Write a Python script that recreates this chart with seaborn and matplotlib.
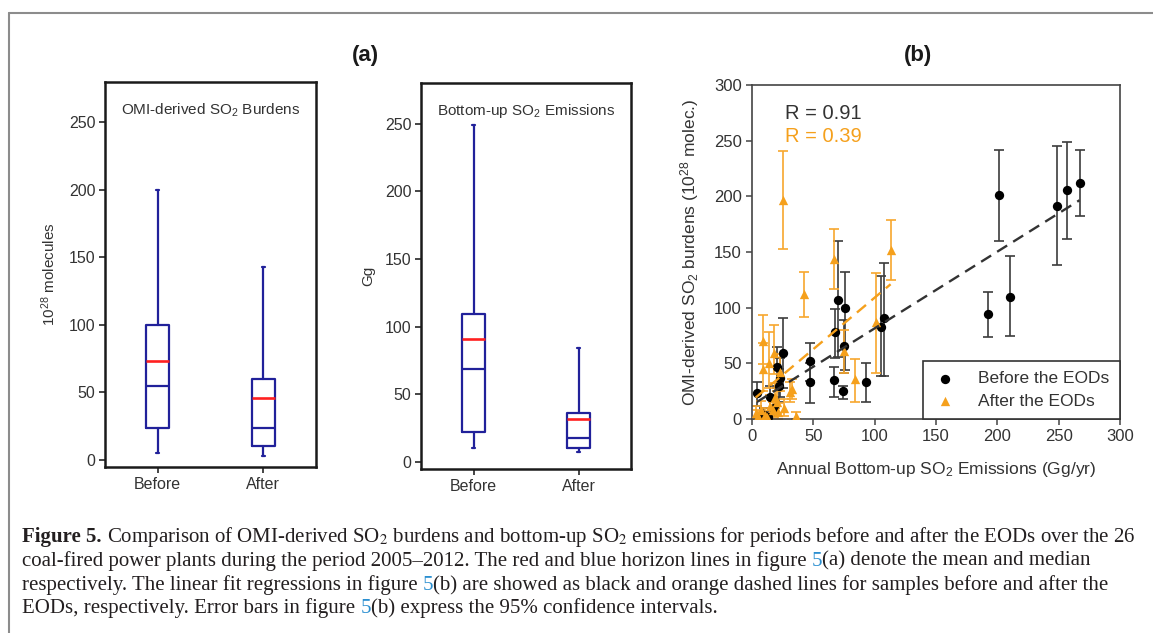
import numpy as np
import pandas as pd
import matplotlib
matplotlib.use('Agg')
import matplotlib.pyplot as plt
import seaborn as sns
from matplotlib.lines import Line2D
from matplotlib.offsetbox import TextArea, HPacker, DrawingArea, AnnotationBbox

sns.set_theme(style='ticks')
plt.rcParams['font.family'] = ['Liberation Sans', 'DejaVu Sans']
plt.rcParams['mathtext.fontset'] = 'custom'
plt.rcParams['mathtext.rm'] = 'Liberation Sans'
plt.rcParams['mathtext.it'] = 'Liberation Sans:italic'
plt.rcParams['mathtext.bf'] = 'Liberation Sans:bold'

# --- data ---
groups = ['Before', 'After']

# (a) left: OMI-derived SO2 burdens (10^28 molecules)
burden_low = [5, 3]
burden_q1 = [24, 10]
burden_med = [55, 24]
burden_q3 = [100, 60]
burden_high = [200, 143]
burden_mean = [73, 46]

# (a) right: bottom-up SO2 emissions (Gg)
emis_low = [10, 7]
emis_q1 = [22, 10]
emis_med = [69, 18]
emis_q3 = [109, 36]
emis_high = [249, 84]
emis_mean = [91, 32]

# (b) before the EODs: emission, burden, 95% CI low/high
before_x = [4, 10, 13, 15, 18, 20, 22, 23, 25, 47, 47, 67, 68, 70, 74, 75, 76, 93,
            105, 108, 192, 201, 210, 249, 257, 267]
before_y = [23, 4, 2, 20, 10, 47, 30, 37, 59, 52, 33, 35, 78, 107, 25, 66, 100, 33,
            83, 91, 94, 201, 110, 191, 206, 212]
before_lo = [12, 1, 0, 10, 3, 28, 15, 20, 28, 34, 14, 20, 55, 56, 18, 41, 44, 15,
             39, 39, 74, 160, 75, 138, 162, 182]
before_hi = [33, 10, 6, 30, 20, 65, 45, 55, 91, 68, 50, 47, 99, 160, 30, 89, 132, 50,
             128, 140, 114, 242, 146, 245, 249, 242]

# (b) after the EODs
after_x = [3, 5, 7, 9, 9, 11, 12, 14, 15, 17, 18, 19, 20, 21, 23, 25, 26, 31, 33, 36,
           42, 67, 75, 84, 101, 113]
after_y = [5, 3, 8, 70, 45, 4, 2, 50, 12, 8, 59, 20, 15, 6, 42, 197, 10, 24, 27, 3,
           112, 144, 61, 36, 87, 152]
after_lo = [0, 0, 2, 49, 25, 0, 0, 28, 4, 2, 40, 10, 5, 0, 25, 153, 3, 15, 18, 0,
            92, 117, 41, 15, 41, 125]
after_hi = [12, 8, 16, 93, 68, 10, 5, 78, 22, 15, 84, 32, 25, 14, 58, 241, 18, 33, 36, 6,
            132, 171, 80, 54, 131, 179]

r_before = 0.91
r_after = 0.39

navy = '#21219a'
orange = '#f5a01c'
W, H = 1153, 633

fig = plt.figure(figsize=(W / 100, H / 100), dpi=100)


def box_panel(rect, low, q1, med, q3, high, mean, title, ylabel, pad):
    ax = fig.add_axes(rect)
    stats = []
    for i, g in enumerate(groups):
        stats.append({'label': g, 'whislo': low[i], 'q1': q1[i], 'med': med[i],
                      'q3': q3[i], 'whishi': high[i], 'mean': mean[i], 'fliers': []})
    line = dict(color=navy, lw=1.6)
    ax.bxp(stats, positions=[0, 1], widths=0.22, showmeans=True, meanline=True,
           showfliers=False, boxprops=line, whiskerprops=line, capprops=line,
           medianprops=line, meanprops=dict(color='#ff2020', lw=1.9, ls='-'),
           capwidths=0.03)
    ax.set_xlim(-0.5, 1.5)
    ax.set_ylim(-5.2, 280)
    ax.set_yticks(range(0, 251, 50))
    ax.tick_params(direction='out', length=4, width=1.2, labelsize=11.5,
                   labelcolor='#333333', pad=3)
    for s in ax.spines.values():
        s.set_linewidth(1.8)
        s.set_color('#1a1a1a')
    ax.text(0.5, 0.927, title, transform=ax.transAxes, ha='center', va='center',
            fontsize=11, color='#333333')
    ax.set_ylabel(ylabel, fontsize=11, color='#333333', labelpad=pad)
    return ax


box_panel([105 / W, 1 - 467 / H, 211 / W, 385 / H], burden_low, burden_q1, burden_med,
          burden_q3, burden_high, burden_mean, 'OMI-derived SO$_2$ Burdens',
          '10$^{28}$ molecules', 8)
box_panel([421 / W, 1 - 469 / H, 210 / W, 386 / H], emis_low, emis_q1, emis_med,
          emis_q3, emis_high, emis_mean, 'Bottom-up SO$_2$ Emissions', 'Gg', 7)

# --- (b) scatter with CIs and linear fits ---
before = pd.DataFrame({'x': before_x, 'y': before_y, 'lo': before_lo, 'hi': before_hi})
after = pd.DataFrame({'x': after_x, 'y': after_y, 'lo': after_lo, 'hi': after_hi})

axb = fig.add_axes([752 / W, 1 - 419 / H, 368 / W, 334 / H])
axb.errorbar(before.x, before.y, yerr=[before.y - before.lo, before.hi - before.y],
             fmt='none', ecolor='#3c3c3c', elinewidth=1.2, capsize=3.5, capthick=1.2,
             zorder=2)
axb.errorbar(after.x, after.y, yerr=[after.y - after.lo, after.hi - after.y],
             fmt='none', ecolor='#f7a72e', elinewidth=1.2, capsize=3.5, capthick=1.2,
             zorder=2)
sns.scatterplot(data=before, x='x', y='y', color='black', marker='o', s=45,
                linewidth=0, label='Before the EODs', ax=axb, zorder=3)
sns.scatterplot(data=after, x='x', y='y', color=orange, marker='^', s=45,
                linewidth=0, label='After the EODs', ax=axb, zorder=3)
sns.regplot(data=before, x='x', y='y', scatter=False, ci=None, truncate=True,
            color='#333333', line_kws=dict(ls=(0, (5, 3)), lw=1.7, zorder=4), ax=axb)
sns.regplot(data=after, x='x', y='y', scatter=False, ci=None, truncate=True,
            color=orange, line_kws=dict(ls=(0, (5, 3)), lw=1.7, zorder=4), ax=axb)

axb.set_xlim(0, 300)
axb.set_ylim(0, 300)
axb.set_xticks(range(0, 301, 50))
axb.set_yticks(range(0, 301, 50))
axb.tick_params(direction='out', length=4, width=1.1, labelsize=12,
                labelcolor='#333333', color='#444444')
for s in axb.spines.values():
    s.set_linewidth(1.2)
    s.set_color('#444444')
axb.set_xlabel('Annual Bottom-up SO$_2$ Emissions (Gg/yr)', fontsize=12.5,
               color='#333333', labelpad=11)
axb.set_ylabel('OMI-derived SO$_2$ burdens (10$^{28}$ molec.)', fontsize=12.5,
               color='#333333', labelpad=9)
axb.text(0.09, 0.916, f'R = {r_before:.2f}', transform=axb.transAxes, ha='left',
         va='center', fontsize=14.5, color='#333333')
axb.text(0.09, 0.847, f'R = {r_after:.2f}', transform=axb.transAxes, ha='left',
         va='center', fontsize=14.5, color=orange)
leg = axb.legend(loc='lower right', borderaxespad=0, frameon=True, fancybox=False,
                 edgecolor='#333333', framealpha=1, fontsize=12.5, handletextpad=1.2,
                 borderpad=0.6, labelspacing=0.4, handlelength=1.4)
leg.get_frame().set_linewidth(1.2)
for t in leg.get_texts():
    t.set_color('#333333')

# panel letters
fig.text(365 / W, 1 - 55 / H, '(a)', ha='center', va='center', fontsize=16,
         fontweight='bold', color='#1a1a1a')
fig.text(918 / W, 1 - 55 / H, '(b)', ha='center', va='center', fontsize=16,
         fontweight='bold', color='#1a1a1a')

# page frame
fig.add_artist(Line2D([9 / W, 9 / W], [0, 1 - 13 / H], transform=fig.transFigure,
                      color='#8c8c8c', lw=1.5))
fig.add_artist(Line2D([9 / W, 1], [1 - 13 / H, 1 - 13 / H], transform=fig.transFigure,
                      color='#8c8c8c', lw=1.5))

# caption
cap_size = 15
plain = dict(fontfamily='Liberation Serif', fontsize=cap_size, color='#231f20',
             math_fontfamily='stix')
bold = dict(plain, fontweight='bold')
link = dict(plain, color='#2b8fd0')
SP = None

caption_lines = [
    [('Figure 5.', bold), SP,
     ('Comparison of OMI-derived SO$_2$ burdens and bottom-up SO$_2$ emissions for periods '
      'before and after the EODs over the 26', plain)],
    [('coal-fired power plants during the period 2005\u20132012. The red and blue horizon '
      'lines in figure', plain), SP, ('5', link), ('(a) denote the mean and median', plain)],
    [('respectively. The linear fit regressions in figure', plain), SP, ('5', link),
     ('(b) are showed as black and orange dashed lines for samples before and after the',
      plain)],
    [('EODs, respectively. Error bars in figure', plain), SP, ('5', link),
     ('(b) express the 95% confidence intervals.', plain)],
]
caption_y = [537, 561, 585, 608]

for parts, yy in zip(caption_lines, caption_y):
    children = []
    for p in parts:
        if p is None:
            children.append(DrawingArea(0.25 * cap_size, 1))
        else:
            children.append(TextArea(p[0], textprops=p[1]))
    pack = HPacker(children=children, align='baseline', pad=0, sep=0)
    ab = AnnotationBbox(pack, (22, H - yy), xycoords='figure pixels',
                        box_alignment=(0, 0.5), frameon=False, pad=0)
    fig.add_artist(ab)

fig.savefig('out.png', dpi=100)
